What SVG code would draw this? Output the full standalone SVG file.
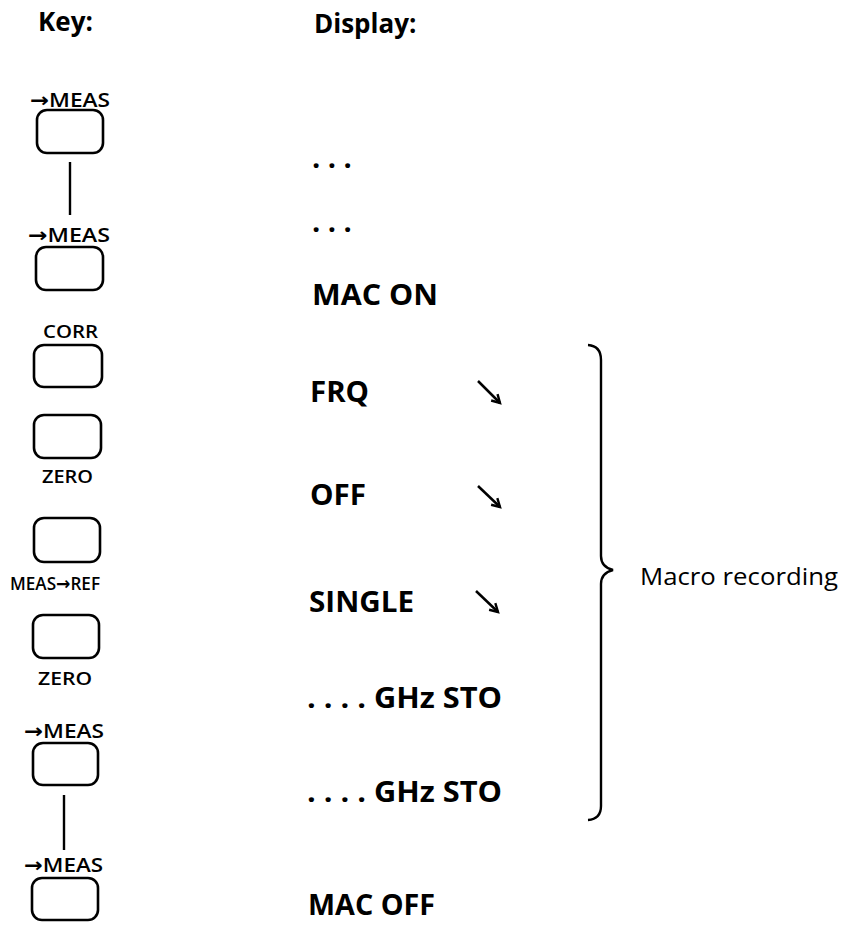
<svg xmlns="http://www.w3.org/2000/svg" width="841" height="928" viewBox="0 0 841 928">
<style>
.hd{font-family:"Open Sans","Noto Sans",sans-serif;font-weight:700;font-size:26px;fill:#000}
.disp{font-family:"Open Sans","Noto Sans",sans-serif;font-weight:700;font-size:29px;fill:#000}
.key{font-family:"Open Sans","DejaVu Sans",sans-serif;font-weight:600;font-size:18px;fill:#000}
.km{font-size:20px}
.lbl{font-family:"Open Sans","Noto Sans",sans-serif;font-weight:400;font-size:24px;fill:#000}
.btn{fill:#fff;stroke:#000;stroke-width:2.6}
.ln{fill:none;stroke:#000;stroke-width:2.4}
.ar{fill:none;stroke:#000;stroke-width:2.5}
</style>
<defs>
<marker id="ah" markerWidth="12" markerHeight="12" refX="9" refY="6" orient="auto" markerUnits="userSpaceOnUse">
<path d="M1,1.5 L9,6 L1,10.5" fill="none" stroke="#000" stroke-width="2.4"/>
</marker>
</defs>
<text class="hd" x="38" y="31">Key:</text>
<text class="hd" x="314" y="33">Display:</text>

<g id="key1"><text class="key km" x="30" y="107" textLength="80" lengthAdjust="spacingAndGlyphs">→MEAS</text><rect class="btn" x="37" y="110" width="66" height="43" rx="10"/></g>
<g id="key2"><text class="key km" x="28" y="242" textLength="82" lengthAdjust="spacingAndGlyphs">→MEAS</text><rect class="btn" x="36" y="247" width="67" height="43" rx="10"/></g>
<g id="key3"><text class="key" x="43" y="338" textLength="55" lengthAdjust="spacingAndGlyphs">CORR</text><rect class="btn" x="34" y="345" width="68" height="42" rx="10"/></g>
<g id="key4"><rect class="btn" x="34" y="415" width="67" height="43" rx="10"/><text class="key" x="42" y="483" textLength="51" lengthAdjust="spacingAndGlyphs">ZERO</text></g>
<g id="key5"><rect class="btn" x="34" y="518" width="66" height="44" rx="10"/><text class="key" x="10" y="590" textLength="90" lengthAdjust="spacingAndGlyphs">MEAS→REF</text></g>
<g id="key6"><rect class="btn" x="33" y="615" width="66" height="43" rx="10"/><text class="key" x="38" y="685" textLength="54" lengthAdjust="spacingAndGlyphs">ZERO</text></g>
<g id="key7"><text class="key km" x="24" y="738" textLength="80" lengthAdjust="spacingAndGlyphs">→MEAS</text><rect class="btn" x="33" y="743" width="65" height="42" rx="10"/></g>
<g id="key8"><text class="key km" x="24" y="872" textLength="79" lengthAdjust="spacingAndGlyphs">→MEAS</text><rect class="btn" x="32" y="878" width="66" height="42" rx="10"/></g>

<g id="d1"><text class="disp" x="312" y="168">. . .</text></g>
<g id="d2"><text class="disp" x="312" y="232">. . .</text></g>
<g id="d3"><text class="disp" x="312" y="305" textLength="126" lengthAdjust="spacingAndGlyphs">MAC ON</text></g>
<g id="d4"><text class="disp" x="310" y="402" textLength="59" lengthAdjust="spacingAndGlyphs">FRQ</text></g>
<g id="d5"><text class="disp" x="310" y="505" textLength="56" lengthAdjust="spacingAndGlyphs">OFF</text></g>
<g id="d6"><text class="disp" x="309" y="612" textLength="105" lengthAdjust="spacingAndGlyphs">SINGLE</text></g>
<g id="d7"><text class="disp" x="307" y="708" textLength="195" lengthAdjust="spacingAndGlyphs">. . . . GHz STO</text></g>
<g id="d8"><text class="disp" x="307" y="802" textLength="195" lengthAdjust="spacingAndGlyphs">. . . . GHz STO</text></g>
<g id="d9"><text class="disp" x="308" y="915" textLength="127" lengthAdjust="spacingAndGlyphs">MAC OFF</text></g>

<g id="brace">
<path class="ln" d="M588,345 Q601,346 601,360 L601,556 Q601,567 613,570 Q601,573 601,584 L601,806 Q601,819 588,820"/>
<text class="lbl" x="640" y="585" textLength="198" lengthAdjust="spacingAndGlyphs">Macro recording</text>
</g>

<g id="connectors">
<line class="ln" x1="70" y1="162" x2="70" y2="215"/>
<line class="ln" x1="64" y1="795" x2="64" y2="850"/>
<line class="ar" x1="478" y1="381" x2="500" y2="403" marker-end="url(#ah)"/>
<line class="ar" x1="478" y1="486" x2="500" y2="507" marker-end="url(#ah)"/>
<line class="ar" x1="476" y1="591" x2="498" y2="612" marker-end="url(#ah)"/>
</g>
</svg>
